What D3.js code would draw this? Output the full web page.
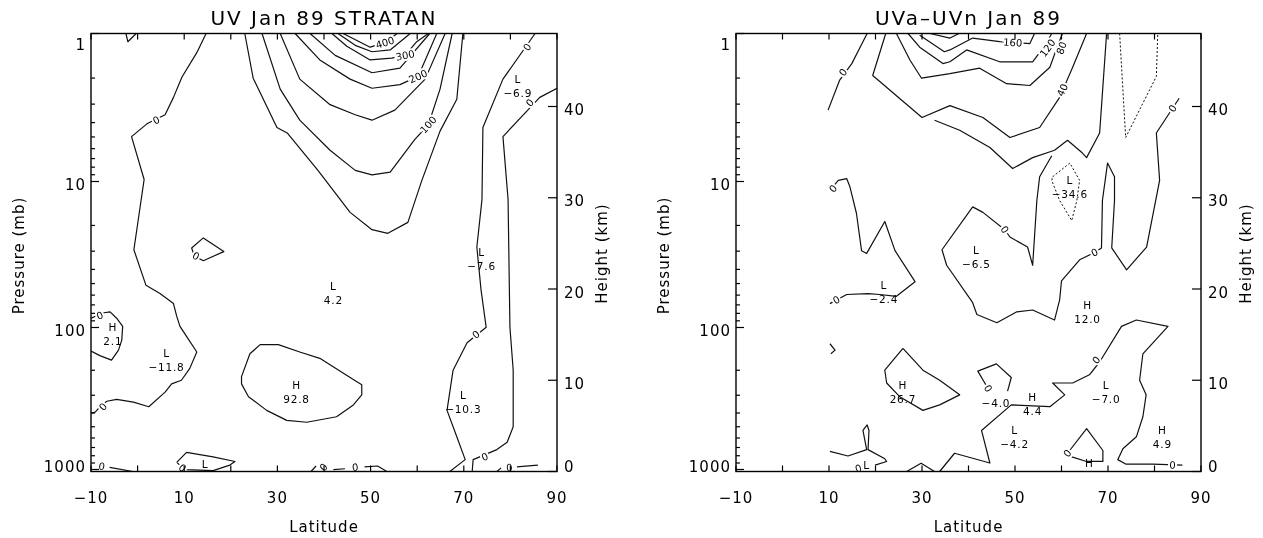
<!DOCTYPE html>
<meta charset="utf-8">
<style>
  body { margin:0; background:#fff; }
  svg { display:block; font-family:"DejaVu Sans", sans-serif; will-change:transform; }
  text { fill:#000; }
  .frame { fill:none; stroke:#000; stroke-width:1.4; }
  .tick { stroke:#000; stroke-width:1.2; }
  .c { fill:none; stroke:#111; stroke-width:1.2; stroke-linejoin:round; }
  .neg { stroke-dasharray:2,2; stroke-width:1; }
  .tl { font-size:15px; letter-spacing:1px; }
  .ttl { font-size:20px; letter-spacing:2px; text-anchor:middle; }
  .ax { font-size:15px; letter-spacing:1px; text-anchor:middle; }
  .clab { font-size:10px; text-anchor:middle; dominant-baseline:central; paint-order:stroke; stroke:#fff; stroke-width:4px; }
  .ext { font-size:10.5px; letter-spacing:0.8px; text-anchor:middle; dominant-baseline:central; }
</style>
<svg id="chart" width="1263" height="538"></svg>
<script src="https://cdnjs.cloudflare.com/ajax/libs/d3/7.8.5/d3.min.js"></script>
<script>
// ---- axis ticks ----
var latTicks = [-10, 0, 10, 20, 30, 40, 50, 60, 70, 80, 90];
var latLabels = [-10, 10, 30, 50, 70, 90];
var presMajor = [1, 10, 100, 1000];
var heightTicks = [0, 10, 20, 30, 40];

// ---- left panel: UV Jan 89 STRATAN, contours as [latitude, height km] ----
var uvContours = [
  {v: 0, pts: [[14.7,48],[12.7,45.9],[9.5,43.2],[7.7,41.0],[5.9,39.1],[2.0,38.1],[-1.3,36.7],[1.4,32.0],[-0.8,24.3],[1.8,20.4],[4.8,19.5],[7.7,18.4],[8.4,17.0],[9.1,15.9],[10.5,14.8],[12.7,13.1],[11.2,11.3],[9.4,10.0],[7.3,9.6],[5.9,8.7],[2.4,7.1],[-0.9,7.6],[-4.5,7.9],[-6.6,7.7],[-7.7,7.3],[-9.1,6.5],[-10,6.4]]},
  {v: 0, pts: [[-2.5,48],[-2.1,47.1],[-0.3,48]]},
  {v: 0, pts: [[12.2,23.6],[11.6,24.5],[14.1,25.6],[18.5,24.1],[14.1,23.1],[12.2,23.6]]},
  {v: 0, pts: [[-10,13.2],[-8.1,12.7],[-5.6,12.2],[-4.1,13.3],[-3.4,14.4],[-3.2,15.9],[-4.5,16.8],[-5.9,17.5],[-7.2,17.4],[-10,16.8]]},
  {v: 0, pts: [[-6,0.45],[-1,0]]},
  {v: 0, pts: [[8.4,1.0],[10.5,2.1],[16.2,1.6],[20.9,1.1],[19.8,0.7],[16.2,0.1],[10.2,0.2],[8.4,1.0]]},
  {v: 50, pts: [[22.3,10.4],[24.1,12.9],[26.3,13.9],[30.2,13.9],[34.8,13.1],[39.1,12.4],[46.2,10.1],[48.1,9.5],[48.1,8.4],[46.3,7.3],[42.7,6.0],[36.3,5.4],[32.0,5.6],[27.7,6.7],[23.8,8.2],[22.3,9.6],[22.3,10.4]]},
  {v: 50, pts: [[23.0,48],[24.8,43.1],[29.9,37.7],[32.1,37.1],[38.7,33.0],[45.6,28.4],[50.3,26.5],[53.7,26.1],[58.0,27.3],[61.0,31.9],[64.9,37.3],[68.5,40.8],[69.8,48]]},
  {v: 100, pts: [[26.7,48],[30.6,41.9],[34.8,38.5],[41.3,35.2],[46.7,33.0],[50.3,32.5],[54.2,32.8],[59.5,36.4],[62.4,38.0],[64.9,41.9],[67.5,48]]},
  {v: 150, pts: [[30.6,48],[34.8,43.0],[41.3,40.2],[46.7,39.1],[50.3,38.5],[55.2,39.6],[61.7,43.0],[66.0,48]]},
  {v: 200, pts: [[33.8,48],[39.1,45.1],[45.6,43.0],[50.3,42.0],[56.3,42.4],[60.2,43.3],[64.2,48]]},
  {v: 250, pts: [[37.0,48],[42.4,45.6],[50.3,43.7],[56.3,44.2],[62.7,48]]},
  {v: 300, pts: [[41.7,48],[44.9,46.6],[49.9,45.1],[54.5,45.3],[57.4,45.6],[59.9,47.1],[62.4,48]]},
  {v: 350, pts: [[43.0,48],[46.7,46.7],[50.3,46.0],[54.2,46.2],[58.5,48]]},
  {v: 400, pts: [[44.1,48],[49.9,46.5],[53.1,47.0],[55.7,48]]},
  {v: 0, pts: [[85.3,48],[78.4,43.0],[74.1,37.7],[73.9,29.8],[72.8,24.6],[73.7,19.9],[74.8,15.8],[70.7,14.1],[67.7,11.1],[66.4,6.7],[68.5,3.8],[70.3,1.3],[67.0,0]]},
  {v: 0, pts: [[90,42.0],[86.3,41.0],[78.4,36.7],[79.5,29.8],[79.9,15.8],[80.6,11.1],[80.6,4.9],[79.3,3.2],[77.1,2.4],[72.0,1.3],[71.8,0]]},
  {v: 0, pts: [[77.1,0],[78.0,0.4]]},
  {v: 0, pts: [[81.4,0.5],[85.9,0.7]]},
  {v: 0, pts: [[37.2,0],[38.3,0.6]]},
  {v: 0, pts: [[42.0,0.2],[44.5,0.3]]},
  {v: 0, pts: [[48.7,0.5],[51.5,0.6],[53.5,0]]}
];
var uvLineLabels = [
  {t:"0", lat:4.0, km:38.5}, {t:"0", lat:-7.4, km:7.1}, {t:"0", lat:12.5, km:23.6},
  {t:"0", lat:-8.1, km:17.1}, {t:"0", lat:-7.7, km:0.55}, {t:"0", lat:9.6, km:0.4},
  {t:"0", lat:83.6, km:46.5}, {t:"0", lat:72.6, km:15.0}, {t:"0", lat:84.2, km:40.4},
  {t:"0", lat:74.5, km:1.6}, {t:"0", lat:39.9, km:0.45}, {t:"0", lat:46.7, km:0.45},
  {t:"0", lat:79.8, km:0.4},
  {t:"100", lat:62.4, km:38.0}, {t:"200", lat:60.2, km:43.3},
  {t:"300", lat:57.4, km:45.6}, {t:"400", lat:53.1, km:47.0}
];
var uvExtrema = [
  {t:"H", v:"2.1", lat:-5.3, km:15.8}, {t:"L", v:"\u221211.8", lat:6.2, km:13.0},
  {t:"L", v:"4.2", lat:42.0, km:20.3}, {t:"H", v:"92.8", lat:34.1, km:9.5},
  {t:"L", v:"", lat:14.5, km:0.85}, {t:"L", v:"\u22126.9", lat:81.6, km:43.0},
  {t:"L", v:"\u22127.6", lat:73.8, km:24.1}, {t:"L", v:"\u221210.3", lat:69.9, km:8.4}
];

// ---- right panel: UVa-UVn Jan 89 ----
var diffContours = [
  {v: 0, pts: [[9.8,39.6],[12.3,42.9],[14.9,44.7],[18.2,48]]},
  {v: 0, pts: [[10.2,30.8],[12.0,31.9],[13.8,32.1],[14.5,31.2],[15.9,28.3],[17.0,24.2],[18.1,23.9],[22.0,27.4],[24.2,24.2],[28.5,20.8],[24.5,19.2],[20.9,19.4],[18.4,19.5],[13.8,19.4],[10.2,18.4]]},
  {v: 0, pts: [[10.2,14.0],[11.3,13.3],[10.4,12.9]]},
  {v: 0, pts: [[69.7,48],[68.2,37.1],[65.4,34.4],[64.5,34.9],[61.3,36.3],[58.5,35.2],[53.8,34.4],[49.5,33.2],[44.6,35.5],[38.1,37.4],[32.7,38.5]]},
  {v: 0, pts: [[57.9,34.6],[55.3,32.3],[54.7,29.7],[53.8,22.6],[52.7,24.6],[48.9,25.7],[47.8,26.5],[43.1,28.4],[40.9,29.0],[34.3,24.3],[35.3,22.6],[40.9,18.5],[41.8,17.2],[46.1,16.3],[50.4,17.5],[53.8,17.7],[58.5,16.6],[59.6,18.8],[60.0,20.9],[63.9,23.2],[67.1,24.0],[68.6,24.5],[68.8,29.7],[69.9,33.8],[71.4,32.3],[71.4,29.7],[70.8,24.5],[74.0,22.1],[78.3,24.6],[81.1,31.9],[80.4,37.1],[85.3,40.9]]},
  {v: 0, pts: [[33.8,0],[37.0,2.0],[44.6,0.93],[42.8,4.5],[49.2,7.3],[57.5,7.1],[60.7,8.4],[58.1,9.7],[62.4,9.7],[66.0,10.6],[68.2,12.0],[72.9,15.9],[76.1,16.6],[82.9,15.9],[77.5,12.9],[76.8,10.0],[78.2,8.4],[77.5,6.0],[76.1,3.8],[73.2,2.5],[72.1,1.3],[73.9,0.8],[79.6,0.8],[86.0,0.7]]},
  {v: 20, pts: [[25.9,13.5],[30.2,11.1],[33.8,10.0],[38.1,8.4],[33.8,7.3],[30.2,6.7],[25.2,8.2],[22.4,9.7],[22.0,11.1],[25.9,13.5]]},
  {v: 0, pts: [[10.2,2.2],[14.1,1.7],[18.1,2.4],[17.3,4.5],[18.2,5.1],[18.6,4.5],[18.4,2.4],[22.0,1.4],[22.4,1.1],[19.9,0.7]]},
  {v: 0, pts: [[26.7,0],[29.8,0.9],[32.7,0]]},
  {v: 0, pts: [[61.3,2.0],[65.4,4.7],[68.9,2.3],[68.9,1.1],[65.4,1.1],[62.2,1.6]]},
  {v: 0, pts: [[44.2,9.1],[42.0,11.0],[46.0,11.8],[49.2,10.3],[48.4,8.8]]},
  {v: 40, pts: [[22.2,48],[19.4,43.4],[30.0,38.8],[36.0,40.1],[43.1,38.8],[48.9,36.6],[55.3,37.7],[59.6,41.0],[62.4,44.3],[65.4,48]]},
  {v: 80, pts: [[24.5,48],[27.4,45.1],[29.9,43.1],[36.0,43.6],[42.4,44.2],[48.2,42.5],[53.2,42.3],[57.5,44.3],[59.2,46.7],[60.2,48]]},
  {v: 120, pts: [[27.0,48],[29.5,46.5],[34.5,44.7],[36.0,44.9],[39.6,46.2],[46.7,44.9],[53.8,44.9],[56.7,46.9],[57.9,48]]},
  {v: 160, pts: [[29.5,47.8],[31.6,47.1],[34.8,46.0],[36.0,46.2],[40.9,47.5],[46.7,47.1],[53.2,46.9],[54.2,48]]},
  {v: 200, pts: [[31.7,48],[36.0,47.5],[38,48]]},
  {v: -20, pts: [[72.5,48],[73.8,36.6],[80.4,43.3],[80.7,48]]},
  {v: -20, pts: [[58.1,32.3],[61.8,33.8],[63.9,31.9],[63.3,29.7],[62.2,27.5],[59.6,29.7],[57.9,31.9],[58.1,32.3]]}
];
var diffLineLabels = [
  {t:"0", lat:13.0, km:43.75}, {t:"0", lat:10.9, km:31.0}, {t:"0", lat:11.6, km:18.8},
  {t:"0", lat:47.8, km:26.5}, {t:"0", lat:67.1, km:24.0}, {t:"0", lat:83.9, km:39.8},
  {t:"0", lat:67.5, km:12.2}, {t:"0", lat:83.9, km:0.7}, {t:"0", lat:16.3, km:0.35},
  {t:"0", lat:61.3, km:2.0}, {t:"0", lat:44.2, km:9.1},
  {t:"40", lat:60.2, km:41.8}, {t:"80", lat:60.0, km:46.4},
  {t:"120", lat:57.0, km:46.4}, {t:"160", lat:49.5, km:47.0}
];
var diffExtrema = [
  {t:"L", v:"\u221234.6", lat:61.8, km:31.9}, {t:"L", v:"\u22126.5", lat:41.7, km:24.3},
  {t:"L", v:"\u22122.4", lat:21.8, km:20.4}, {t:"H", v:"12.0", lat:65.6, km:18.2},
  {t:"H", v:"26.7", lat:25.9, km:9.5}, {t:"", v:"\u22124.0", lat:45.9, km:9.0},
  {t:"H", v:"4.4", lat:53.8, km:8.2}, {t:"L", v:"\u22124.2", lat:49.9, km:4.5},
  {t:"L", v:"\u22127.0", lat:69.6, km:9.5}, {t:"H", v:"4.9", lat:81.7, km:4.5},
  {t:"H", v:"", lat:66.0, km:0.9}, {t:"L", v:"", lat:18.1, km:0.7}
];

var panels = [
  {id:"a", title:"UV Jan 89 STRATAN", x0:91, x1:557, contours:uvContours, lineLabels:uvLineLabels, extrema:uvExtrema},
  {id:"b", title:"UVa\u2013UVn Jan 89", x0:736, x1:1201, contours:diffContours, lineLabels:diffLineLabels, extrema:diffExtrema}
];

var yTop = 33.5, yBot = 471.5;
var svg = d3.select("#chart");
var fmt = function(v) { return v < 0 ? "\u2212" + Math.abs(v) : String(v); };

panels.forEach(function(P) {
  var x = d3.scaleLinear().domain([-10, 90]).range([P.x0, P.x1]);
  var z = d3.scaleLinear().domain([0, 48]).range([yBot, yTop]);
  // log-pressure axis (not quite uniform per decade in the original)
  var lp = d3.scaleLinear().domain([0, 1, 2, 3]).range([yTop, 181.5, 327.5, 469.5]);
  var py = function(p) { return lp(Math.log10(p)); };
  var labY = function(t) { return Math.max(yTop + 11.5, Math.min(yBot - 5, t + 3.5)); };

  var g = svg.append("g");
  g.append("clipPath").attr("id", "clip" + P.id).append("rect")
    .attr("x", P.x0).attr("y", yTop).attr("width", P.x1 - P.x0).attr("height", yBot - yTop);

  var line = d3.line().x(function(d) { return x(d[0]); }).y(function(d) { return z(d[1]); });
  var cg = g.append("g").attr("clip-path", "url(#clip" + P.id + ")");
  cg.selectAll("path").data(P.contours).join("path")
    .attr("class", function(d) { return d.v < 0 ? "c neg" : "c"; })
    .attr("d", function(d) { return line(d.pts); });

  // line labels rotated along nearest segment
  function angleAt(px, pyy) {
    var best = 1e9, ang = 0;
    P.contours.forEach(function(c) {
      for (var i = 0; i < c.pts.length - 1; i++) {
        var ax = x(c.pts[i][0]), ay = z(c.pts[i][1]), bx = x(c.pts[i+1][0]), by = z(c.pts[i+1][1]);
        var dx = bx - ax, dy = by - ay, L2 = dx*dx + dy*dy || 1;
        var t = Math.max(0, Math.min(1, ((px-ax)*dx + (pyy-ay)*dy) / L2));
        var qx = ax + t*dx - px, qy = ay + t*dy - pyy, d2 = qx*qx + qy*qy;
        if (d2 < best) { best = d2; ang = Math.atan2(dy, dx) * 180 / Math.PI; }
      }
    });
    if (ang > 90) ang -= 180;
    if (ang < -90) ang += 180;
    return ang;
  }
  cg.selectAll("text.clab").data(P.lineLabels).join("text")
    .attr("class", "clab")
    .attr("transform", function(d) {
      var X = x(d.lat), Y = z(d.km);
      return "translate(" + X + "," + Y + ") rotate(" + angleAt(X, Y) + ")";
    })
    .text(function(d) { return d.t; });

  var ex = g.selectAll("g.ext").data(P.extrema).join("g").attr("class", "ext")
    .attr("transform", function(d) { return "translate(" + x(d.lat) + "," + z(d.km) + ")"; });
  ex.append("text").attr("class", "ext").text(function(d) { return d.t; });
  ex.append("text").attr("class", "ext").attr("y", 14).text(function(d) { return d.v; });

  // frame
  g.append("rect").attr("class", "frame")
    .attr("x", P.x0).attr("y", yTop).attr("width", P.x1 - P.x0).attr("height", yBot - yTop);

  // latitude ticks top and bottom
  latTicks.forEach(function(t) {
    g.append("line").attr("class", "tick").attr("x1", x(t)).attr("x2", x(t)).attr("y1", yBot).attr("y2", yBot - 6);
    g.append("line").attr("class", "tick").attr("x1", x(t)).attr("x2", x(t)).attr("y1", yTop).attr("y2", yTop + 6);
  });
  g.selectAll("text.xl").data(latLabels).join("text").attr("class", "tl xl")
    .attr("x", function(d) { return x(d); }).attr("y", 498)
    .attr("text-anchor", "middle").attr("dominant-baseline", "central")
    .text(fmt);

  // pressure ticks
  var minor = [];
  presMajor.slice(0, 3).forEach(function(m) { for (var k = 2; k <= 9; k++) minor.push(m * k); });
  minor.forEach(function(p) {
    g.append("line").attr("class", "tick").attr("x1", P.x0).attr("x2", P.x0 + 4).attr("y1", py(p)).attr("y2", py(p));
  });
  presMajor.forEach(function(p) {
    g.append("line").attr("class", "tick").attr("x1", P.x0).attr("x2", P.x0 + 8).attr("y1", py(p)).attr("y2", py(p));
  });
  g.selectAll("text.yl").data(presMajor).join("text").attr("class", "tl yl")
    .attr("x", P.x0 - 5).attr("y", function(d) { return labY(py(d)); })
    .attr("text-anchor", "end").attr("dominant-baseline", "central").text(String);

  // height ticks
  heightTicks.forEach(function(h) {
    g.append("line").attr("class", "tick").attr("x1", P.x1).attr("x2", P.x1 - 9).attr("y1", z(h)).attr("y2", z(h));
  });
  g.selectAll("text.hl").data(heightTicks).join("text").attr("class", "tl hl")
    .attr("x", P.x1 + 7).attr("y", function(d) { return labY(z(d)); })
    .attr("dominant-baseline", "central").text(String);

  // titles
  g.append("text").attr("class", "ttl").attr("x", (P.x0 + P.x1) / 2).attr("y", 18)
    .attr("dominant-baseline", "central").text(P.title);
  g.append("text").attr("class", "ax").attr("x", (P.x0 + P.x1) / 2).attr("y", 527)
    .attr("dominant-baseline", "central").text("Latitude");
  g.append("text").attr("class", "ax").attr("dominant-baseline", "central")
    .attr("transform", "translate(" + (P.x0 - 72) + "," + ((yTop + yBot) / 2 + 3) + ") rotate(-90)")
    .text("Pressure (mb)");
  g.append("text").attr("class", "ax").attr("dominant-baseline", "central")
    .attr("transform", "translate(" + (P.x1 + 45) + "," + ((yTop + yBot) / 2 + 1) + ") rotate(-90)")
    .text("Height (km)");
});
</script>
